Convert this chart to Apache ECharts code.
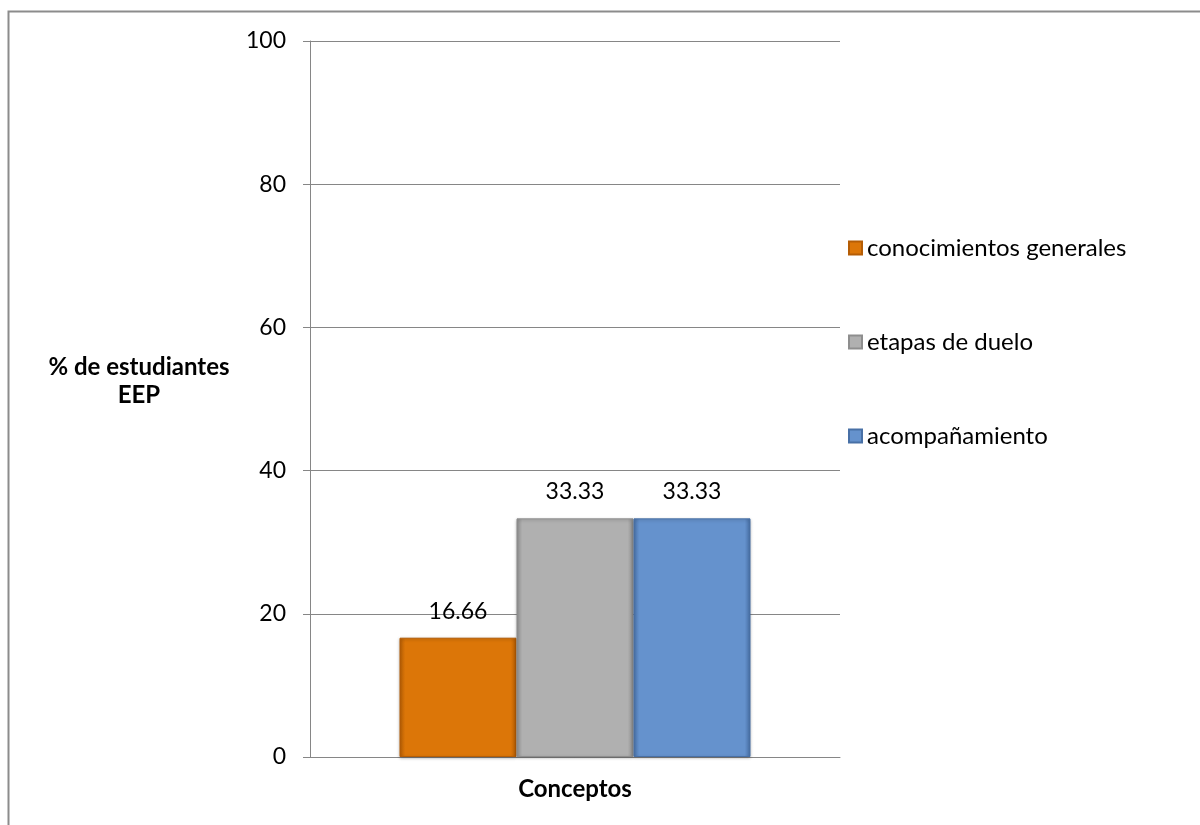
<!DOCTYPE html>
<html>
<head>
<meta charset="utf-8">
<script src="https://cdn.jsdelivr.net/npm/echarts@6/dist/echarts.min.js"></script>
<style>
  html,body{margin:0;padding:0;background:#fff;}
  #chart{width:1200px;height:825px;}
</style>
</head>
<body>
<div id="chart"></div>
<script>
// datos del grafico
const categorias = ['Conceptos'];
const seriesNames = ['conocimientos generales', 'etapas de duelo', 'acompañamiento'];
const valores = [[16.66], [33.33], [33.33]];
const yTicks = [0, 100, 20]; // min, max, interval
const yNombre = '% de estudiantes\nEEP';

const colores = [
  ['#b55d05', '#dc7608', '#e88a1c'],
  ['#8e8e8e', '#b0b0b0', '#bdbdbd'],
  ['#4870a6', '#6592cd', '#72a0da']
];

const font = 'Lato, "Open Sans", sans-serif';

// degradado para simular el bisel
function bisel(c){
  return {
    type:'linear', x:0, y:0, x2:1, y2:0,
    colorStops:[
      {offset:0, color:c[0]},
      {offset:0.05, color:c[1]},
      {offset:0.95, color:c[1]},
      {offset:1, color:c[0]}
    ]
  };
}

const chart = echarts.init(document.getElementById('chart'));

const series = seriesNames.map((name, i) => ({
  name: name,
  type: 'bar',
  data: valores[i],
  barWidth: 117,
  barGap: '0%',
  itemStyle: {
    color: bisel(colores[i]),
    borderColor: colores[i][0],
    borderWidth: 1,
    shadowColor: 'rgba(0,0,0,0.25)',
    shadowBlur: 3,
    shadowOffsetY: 1
  },
  label: {
    show: true,
    position: 'top',
    distance: 15,
    color: '#000',
    fontSize: 23,
    fontFamily: font,
    formatter: p => p.value.toFixed(2)
  }
}));

chart.setOption({
  animation: false,
  backgroundColor: '#fff',
  graphic: [{
    type: 'rect',
    shape: {x: 8.5, y: 11.5, width: 1200, height: 840},
    style: {fill: 'none', stroke: '#8c8c8c', lineWidth: 2},
    silent: true
  }, {
    // titulo del eje Y (horizontal, a la izquierda)
    type: 'text',
    x: 139,
    y: 381,
    style: {
      text: yNombre,
      fill: '#000',
      font: 'bold 24px ' + font,
      lineHeight: 28,
      align: 'center',
      verticalAlign: 'middle'
    },
    silent: true
  }],
  grid: {left: 310, right: 360, top: 41, bottom: 68, containLabel: false},
  legend: {
    orient: 'vertical',
    left: 848,
    top: 236,
    padding: 0,
    itemWidth: 13,
    itemHeight: 13,
    itemGap: 70,
    icon: 'rect',
    textStyle: {fontSize: 24, fontFamily: font, color: '#000'},
    data: seriesNames
  },
  xAxis: {
    type: 'category',
    data: categorias,
    axisLine: {lineStyle: {color: '#868686', width: 1}},
    axisTick: {show: false},
    axisLabel: {
      margin: 20,
      fontSize: 24,
      fontWeight: 'bold',
      fontFamily: font,
      color: '#000'
    }
  },
  yAxis: {
    type: 'value',
    min: yTicks[0],
    max: yTicks[1],
    interval: yTicks[2],
    axisLine: {show: true, lineStyle: {color: '#868686'}},
    axisTick: {show: true, length: 7, inside: false, lineStyle: {color: '#868686'}},
    axisLabel: {margin: 24, fontSize: 23, fontFamily: font, color: '#000'},
    splitLine: {lineStyle: {color: '#868686', width: 1}}
  },
  series: series
});
</script>
</body>
</html>
